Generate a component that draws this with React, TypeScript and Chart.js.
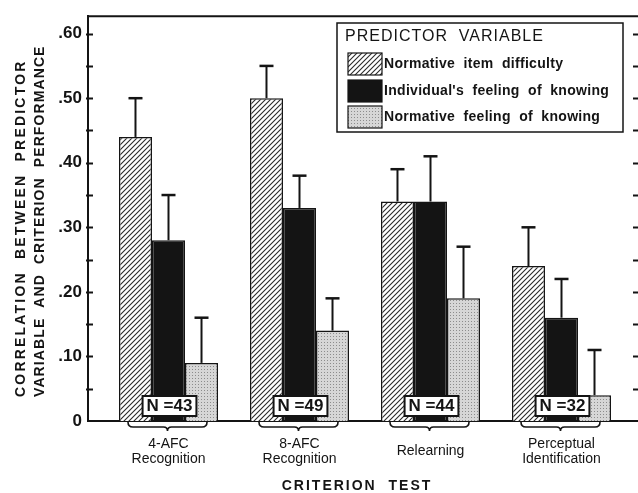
import React, { useEffect, useRef } from 'react';
import { Chart, registerables } from 'chart.js';

Chart.register(...registerables);

// ---- data ----
const categoryLabels: string[][] = [
  ['4-AFC', 'Recognition'],
  ['8-AFC', 'Recognition'],
  ['Relearning'],
  ['Perceptual', 'Identification'],
];
const categoryPositions = [1, 2, 3, 4];
const seriesNames = [
  'Normative  item  difficulty',
  "Individual's  feeling  of  knowing",
  'Normative  feeling  of  knowing',
];
const normativeItemDifficulty = [0.44, 0.5, 0.34, 0.24];
const individualFeelingOfKnowing = [0.28, 0.33, 0.34, 0.16];
const normativeFeelingOfKnowing = [0.09, 0.14, 0.19, 0.04];
const normativeItemDifficultyUpper = [0.5, 0.55, 0.39, 0.3];
const individualFeelingOfKnowingUpper = [0.35, 0.38, 0.41, 0.22];
const normativeFeelingOfKnowingUpper = [0.16, 0.19, 0.27, 0.11];
const sampleSizeLabels = ['N =43', 'N =49', 'N =44', 'N =32'];
const yMajorTicks = [0, 0.1, 0.2, 0.3, 0.4, 0.5, 0.6];
const yMajorLabels = ['0', '.10', '.20', '.30', '.40', '.50', '.60'];
const yMinorTicks = [0.05, 0.15, 0.25, 0.35, 0.45, 0.55];
const yTitleLines = ['CORRELATION  BETWEEN  PREDICTOR', 'VARIABLE  AND  CRITERION  PERFORMANCE'];
const xTitle = 'CRITERION  TEST';
const legendTitle = 'PREDICTOR  VARIABLE';

const INK = '#141414';
const FONT = '"Liberation Sans", Arial, sans-serif';

function makeHatch(): CanvasPattern | string {
  const c = document.createElement('canvas');
  c.width = 5;
  c.height = 5;
  const g = c.getContext('2d');
  if (!g) return '#888';
  g.fillStyle = '#ffffff';
  g.fillRect(0, 0, 5, 5);
  g.strokeStyle = '#2a2a2a';
  g.lineWidth = 1.1;
  g.beginPath();
  g.moveTo(-1, 6);
  g.lineTo(6, -1);
  g.moveTo(-1, 1);
  g.lineTo(1, -1);
  g.moveTo(4, 6);
  g.lineTo(6, 4);
  g.stroke();
  return g.createPattern(c, 'repeat') || '#888';
}

function makeDots(): CanvasPattern | string {
  const c = document.createElement('canvas');
  c.width = 3;
  c.height = 3;
  const g = c.getContext('2d');
  if (!g) return '#ccc';
  g.fillStyle = '#d6d6d6';
  g.fillRect(0, 0, 3, 3);
  g.fillStyle = '#8c8c8c';
  g.fillRect(0, 0, 1, 1);
  return g.createPattern(c, 'repeat') || '#ccc';
}

export default function App() {
  const ref = useRef<HTMLCanvasElement | null>(null);

  useEffect(() => {
    document.body.style.margin = '0';
    const canvas = ref.current;
    if (!canvas) return;
    const fills = [makeHatch(), INK, makeDots()];
    const series = [normativeItemDifficulty, individualFeelingOfKnowing, normativeFeelingOfKnowing];
    const uppers = [normativeItemDifficultyUpper, individualFeelingOfKnowingUpper, normativeFeelingOfKnowingUpper];

    const decorations = {
      id: 'decorations',
      afterDatasetsDraw(chart: any) {
        const ctx: CanvasRenderingContext2D = chart.ctx;
        const xs = chart.scales.x;
        const ys = chart.scales.y;
        const area = chart.chartArea;
        ctx.save();
        // frame top line
        ctx.strokeStyle = INK;
        ctx.lineWidth = 2;
        ctx.beginPath();
        ctx.moveTo(area.left - 1, area.top);
        ctx.lineTo(area.right, area.top);
        ctx.stroke();
        // inward ticks left and right
        ctx.lineWidth = 2;
        [...yMajorTicks, ...yMinorTicks].forEach((v) => {
          if (v === 0) return;
          const py = Math.round(ys.getPixelForValue(v)) + 0.5;
          ctx.beginPath();
          ctx.moveTo(area.left - 2, py);
          ctx.lineTo(area.left + 5, py);
          ctx.moveTo(area.right - 5, py);
          ctx.lineTo(area.right, py);
          ctx.stroke();
        });
        // error bars
        series.forEach((_, di) => {
          const meta = chart.getDatasetMeta(di);
          meta.data.forEach((el: any, i: number) => {
            const top = el.y;
            const up = ys.getPixelForValue(uppers[di][i]);
            ctx.lineWidth = 2;
            ctx.beginPath();
            ctx.moveTo(el.x, top);
            ctx.lineTo(el.x, up);
            ctx.stroke();
            ctx.lineWidth = 2.5;
            ctx.beginPath();
            ctx.moveTo(el.x - 7, up);
            ctx.lineTo(el.x + 7, up);
            ctx.stroke();
          });
        });
        // N boxes and braces
        const m0 = chart.getDatasetMeta(0);
        const m2 = chart.getDatasetMeta(2);
        categoryPositions.forEach((p, i) => {
          const cx = xs.getPixelForValue(p);
          const b0 = m0.data[i] as any;
          const b2 = m2.data[i] as any;
          const left = b0.x - b0.width / 2 + 9;
          const right = b2.x + b2.width / 2 - 11;
          const mid = (left + right) / 2;
          // N box
          ctx.font = `bold 17px ${FONT}`;
          const tw = ctx.measureText(sampleSizeLabels[i]).width;
          const bw = tw + 8;
          const bx = cx - bw / 2 + 1;
          const by = 396;
          ctx.fillStyle = '#ffffff';
          ctx.fillRect(bx, by, bw, 20);
          ctx.strokeStyle = INK;
          ctx.lineWidth = 2;
          ctx.strokeRect(bx, by, bw, 20);
          ctx.fillStyle = INK;
          ctx.textAlign = 'center';
          ctx.textBaseline = 'middle';
          ctx.fillText(sampleSizeLabels[i], bx + bw / 2, by + 10.5);
          // brace
          const y0 = 422;
          const ym = 427;
          ctx.lineWidth = 1.6;
          ctx.beginPath();
          ctx.moveTo(left, y0);
          ctx.quadraticCurveTo(left, ym, left + 5, ym);
          ctx.lineTo(mid - 4, ym);
          ctx.quadraticCurveTo(mid, ym, mid, ym + 4);
          ctx.quadraticCurveTo(mid, ym, mid + 4, ym);
          ctx.lineTo(right - 5, ym);
          ctx.quadraticCurveTo(right, ym, right, y0);
          ctx.stroke();
        });
        // y title (two rotated lines)
        ctx.fillStyle = INK;
        ctx.font = `bold 14px ${FONT}`;
        ctx.textAlign = 'left';
        ctx.textBaseline = 'middle';
        const yx = [21, 40];
        const ySpacing = ['2.2px', '1.1px'];
        yTitleLines.forEach((line, li) => {
          ctx.save();
          (ctx as any).letterSpacing = ySpacing[li];
          ctx.translate(yx[li], 397);
          ctx.rotate(-Math.PI / 2);
          ctx.fillText(line, 0, 0);
          ctx.restore();
        });
        // x title
        ctx.font = `bold 14px ${FONT}`;
        ctx.textAlign = 'center';
        (ctx as any).letterSpacing = '2px';
        ctx.fillText(xTitle, 357, 486);
        (ctx as any).letterSpacing = '0px';
        // legend
        const lx = 337;
        const ly = 23;
        const lw = 286;
        const lh = 109;
        ctx.fillStyle = '#ffffff';
        ctx.fillRect(lx, ly, lw, lh);
        ctx.strokeStyle = INK;
        ctx.lineWidth = 1.5;
        ctx.strokeRect(lx, ly, lw, lh);
        ctx.fillStyle = INK;
        ctx.textAlign = 'left';
        ctx.font = `16px ${FONT}`;
        (ctx as any).letterSpacing = '1px';
        ctx.fillText(legendTitle, 345, 37);
        const rowTops = [53, 80, 106];
        seriesNames.forEach((name, k) => {
          const sy = rowTops[k];
          ctx.fillStyle = fills[k] as any;
          ctx.fillRect(348, sy, 34, 22);
          ctx.strokeStyle = INK;
          ctx.lineWidth = 1.2;
          ctx.strokeRect(348, sy, 34, 22);
          ctx.fillStyle = INK;
          ctx.font = `bold 14px ${FONT}`;
          (ctx as any).letterSpacing = '0.3px';
          ctx.fillText(name, 384, sy + 11.5);
        });
        (ctx as any).letterSpacing = '0px';
        ctx.restore();
      },
    };

    const chart = new Chart(canvas, {
      type: 'bar',
      data: {
        datasets: series.map((vals, di) => ({
          label: seriesNames[di],
          data: vals.map((v, i) => ({ x: categoryPositions[i], y: v })),
          backgroundColor: fills[di] as any,
          borderColor: INK,
          borderWidth: 1.5,
          categoryPercentage: 0.756,
          barPercentage: 1,
        })),
      },
      options: {
        responsive: false,
        animation: false,
        devicePixelRatio: 1,
        layout: { padding: { top: 11, left: 0, right: 0, bottom: 0 } },
        plugins: {
          legend: { display: false },
          tooltip: { enabled: false },
        },
        scales: {
          x: {
            type: 'linear',
            offset: false,
            min: 0.3855,
            max: 4.584,
            grid: { display: false, drawTicks: false, offset: false },
            border: { display: true, color: INK, width: 2 },
            afterBuildTicks: (s: any) => {
              s.ticks = categoryPositions.map((v) => ({ value: v }));
            },
            afterFit: (s: any) => {
              s.height = 72;
            },
            ticks: {
              autoSkip: false,
              maxRotation: 0,
              crossAlign: 'center',
              padding: 23,
              color: INK,
              font: { family: FONT, size: 14, lineHeight: 1.07 },
              callback: (v: any) => {
                const idx = categoryPositions.indexOf(Number(v));
                return idx >= 0 ? categoryLabels[idx] : '';
              },
            },
          },
          y: {
            type: 'linear',
            min: 0,
            max: 0.627,
            grid: { display: false, drawTicks: false },
            border: { display: true, color: INK, width: 2 },
            afterBuildTicks: (s: any) => {
              s.ticks = yMajorTicks.map((v) => ({ value: v }));
            },
            afterFit: (s: any) => {
              s.width = 88;
            },
            ticks: {
              padding: 6,
              color: INK,
              font: { family: FONT, size: 17, weight: 'bold' },
              callback: (v: any) => {
                const idx = yMajorTicks.findIndex((t) => Math.abs(t - Number(v)) < 1e-6);
                return idx >= 0 ? yMajorLabels[idx] : '';
              },
            },
          },
        },
      },
      plugins: [decorations],
    } as any);

    return () => chart.destroy();
  }, []);

  return <canvas ref={ref} width={638} height={493} style={{ display: 'block' }} />;
}
